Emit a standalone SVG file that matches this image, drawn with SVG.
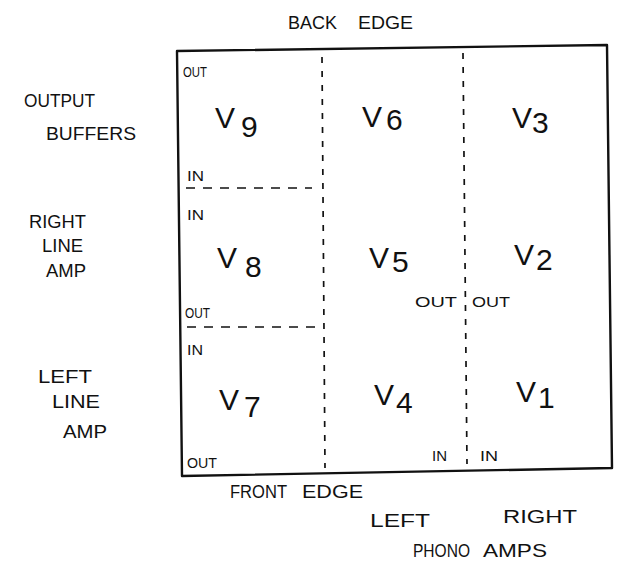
<svg xmlns="http://www.w3.org/2000/svg" width="619" height="566" viewBox="0 0 619 566">
<style>
.frame{fill:none;stroke:#111;stroke-width:2.4;stroke-linejoin:round}
.dash{fill:none;stroke:#111;stroke-width:1.7;stroke-dasharray:6 8}
.hdash{fill:none;stroke:#111;stroke-width:1.5;stroke-dasharray:9 8}
.lbl{font-family:"Liberation Sans",Arial,sans-serif;font-size:18px;fill:#111}
.sm{font-family:"Liberation Sans",Arial,sans-serif;font-size:14px;fill:#111}
.v{font-family:"Liberation Sans",Arial,sans-serif;font-size:30px;fill:#111}
</style>
<rect width="619" height="566" fill="#fff"/>
<g id="labels">
<text class="lbl" x="288" y="29" font-size="20" textLength="49" lengthAdjust="spacingAndGlyphs">BACK</text>
<text class="lbl" x="358" y="29" font-size="20" textLength="55" lengthAdjust="spacingAndGlyphs">EDGE</text>
<text class="lbl" x="24" y="107" textLength="71" lengthAdjust="spacingAndGlyphs">OUTPUT</text>
<text class="lbl" x="46" y="140" textLength="90" lengthAdjust="spacingAndGlyphs">BUFFERS</text>
<text class="lbl" x="29" y="228" textLength="57" lengthAdjust="spacingAndGlyphs">RIGHT</text>
<text class="lbl" x="42" y="252" textLength="41" lengthAdjust="spacingAndGlyphs">LINE</text>
<text class="lbl" x="46" y="277" textLength="40" lengthAdjust="spacingAndGlyphs">AMP</text>
<text class="lbl" x="38" y="383" textLength="54" lengthAdjust="spacingAndGlyphs">LEFT</text>
<text class="lbl" x="52" y="408" textLength="48" lengthAdjust="spacingAndGlyphs">LINE</text>
<text class="lbl" x="63" y="438" textLength="44" lengthAdjust="spacingAndGlyphs">AMP</text>
<text class="lbl" x="230" y="498" font-size="16" textLength="57" lengthAdjust="spacingAndGlyphs">FRONT</text>
<text class="lbl" x="302" y="498" font-size="16" textLength="61" lengthAdjust="spacingAndGlyphs">EDGE</text>
<text class="lbl" x="370" y="527" textLength="60" lengthAdjust="spacingAndGlyphs">LEFT</text>
<text class="lbl" x="503" y="523" textLength="74" lengthAdjust="spacingAndGlyphs">RIGHT</text>
<text class="lbl" x="413" y="557" textLength="57" lengthAdjust="spacingAndGlyphs">PHONO</text>
<text class="lbl" x="483" y="557" textLength="64" lengthAdjust="spacingAndGlyphs">AMPS</text>
</g>
<g id="board">
<path class="frame" d="M177,51 L607,45 L612,468 L182,476 Z"/>
</g>
<g id="connectors">
<line class="dash" x1="322" y1="57" x2="325" y2="468"/>
<line class="dash" x1="463" y1="53" x2="467" y2="464"/>
<line class="hdash" x1="186" y1="188" x2="312" y2="188"/>
<line class="hdash" x1="187" y1="327" x2="315" y2="327"/>
</g>
<g id="V9">
<text class="sm" x="183" y="77" textLength="24" lengthAdjust="spacingAndGlyphs">OUT</text>
<text class="v" x="215" y="128">V</text>
<text class="v" x="241" y="137" font-size="27">9</text>
<text class="sm" x="187" y="181" textLength="17" lengthAdjust="spacingAndGlyphs">IN</text>
</g>
<g id="V6">
<text class="v" x="362" y="127">V</text>
<text class="v" x="386" y="130" font-size="25">6</text>
</g>
<g id="V3">
<text class="v" x="512" y="128">V</text>
<text class="v" x="532" y="133" font-size="28">3</text>
</g>
<g id="V8">
<text class="sm" x="187" y="220" textLength="17" lengthAdjust="spacingAndGlyphs">IN</text>
<text class="v" x="217" y="268">V</text>
<text class="v" x="245" y="277" font-size="24">8</text>
<text class="sm" x="185" y="318" textLength="25" lengthAdjust="spacingAndGlyphs">OUT</text>
</g>
<g id="V5">
<text class="v" x="369" y="268">V</text>
<text class="v" x="392" y="272" font-size="20">5</text>
<text class="sm" x="415" y="307" textLength="42" lengthAdjust="spacingAndGlyphs">OUT</text>
</g>
<g id="V2">
<text class="v" x="514" y="265">V</text>
<text class="v" x="536" y="270" font-size="19">2</text>
<text class="sm" x="472" y="307" textLength="38" lengthAdjust="spacingAndGlyphs">OUT</text>
</g>
<g id="V7">
<text class="sm" x="187" y="355" textLength="16" lengthAdjust="spacingAndGlyphs">IN</text>
<text class="v" x="219" y="410">V</text>
<text class="v" x="244" y="417" font-size="20">7</text>
<text class="sm" x="187" y="468" textLength="30" lengthAdjust="spacingAndGlyphs">OUT</text>
</g>
<g id="V4">
<text class="v" x="374" y="405">V</text>
<text class="v" x="396" y="413" font-size="20">4</text>
<text class="sm" x="432" y="461" textLength="15" lengthAdjust="spacingAndGlyphs">IN</text>
</g>
<g id="V1">
<text class="v" x="516" y="402">V</text>
<text class="v" x="538" y="408" font-size="25">1</text>
<text class="sm" x="480" y="461" textLength="18" lengthAdjust="spacingAndGlyphs">IN</text>
</g>
</svg>
